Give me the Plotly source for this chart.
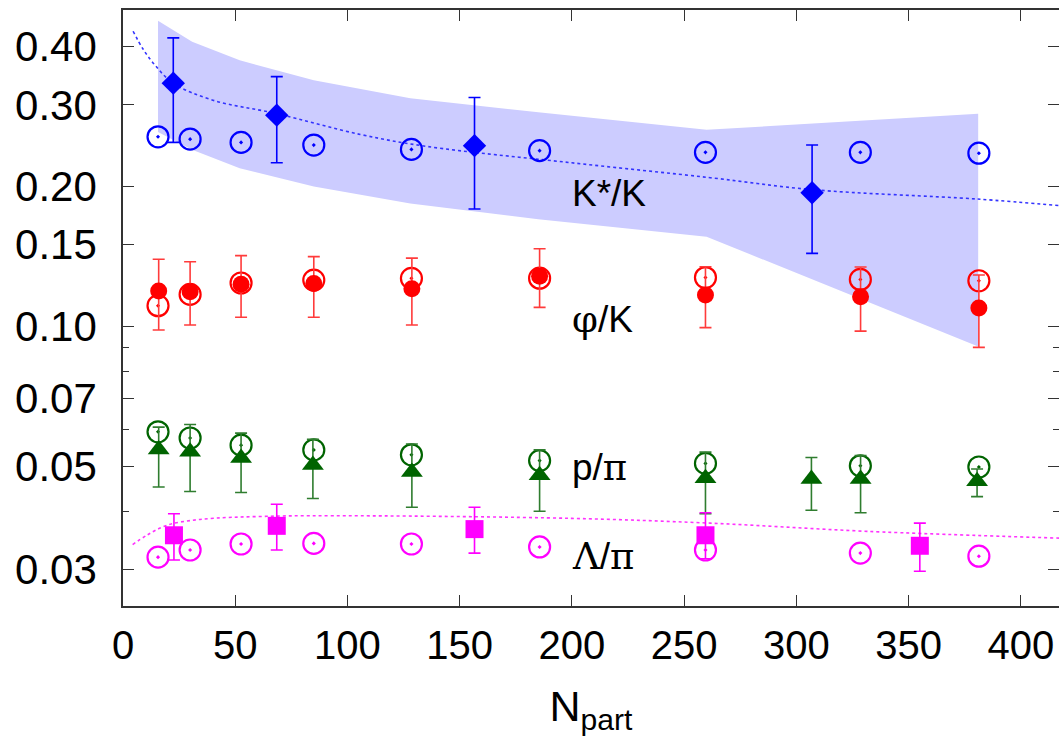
import numpy as np
import plotly.graph_objects as go

# ---------------- data ----------------
# K*/K model band
band_N = [15.6, 30.8, 52, 85, 128, 185, 260, 381]
band_hi = [0.455, 0.410, 0.374, 0.339, 0.310, 0.289, 0.265, 0.287]
band_lo = [0.262, 0.240, 0.219, 0.200, 0.184, 0.170, 0.156, 0.0905]

# K*/K dotted curve
kmod_N = [4.5, 9, 14.3, 22.3, 40, 68.7, 105.7, 135.5, 200, 261.7, 307, 380.7, 417]
kmod = [0.432, 0.395, 0.365, 0.334, 0.307, 0.287, 0.259, 0.244, 0.225, 0.209, 0.197, 0.188, 0.182]

# Lambda/pi dotted curve
lmod_N = [4.3, 10.6, 19.5, 34.3, 64, 105.7, 200, 261.7, 331.5, 417]
lmod = [0.0339, 0.0355, 0.0373, 0.0384, 0.0390, 0.0391, 0.0386, 0.0377, 0.0362, 0.0350]

# open circles (common N)
open_N = [15.6, 29.9, 52.6, 85, 128.5, 185.6, 259.5, 328.5, 381.3]
kstar_open = [0.256, 0.253, 0.249, 0.2457, 0.2405, 0.239, 0.237, 0.237, 0.236]
phi_open = [0.1108, 0.1172, 0.124, 0.1258, 0.1269, 0.127, 0.1274, 0.1262, 0.1254]
p_open = [0.0593, 0.0575, 0.0555, 0.0542, 0.0529, 0.0514, 0.0507, 0.0501, 0.0498]
lam_open = [0.03185, 0.033, 0.034, 0.0341, 0.034, 0.0335, 0.033, 0.0325, 0.032]

# K*/K measured (diamonds)
kstar_N = [22.4, 68.5, 156.6, 307]
kstar = [0.334, 0.285, 0.245, 0.194]
kstar_hi = [0.418, 0.345, 0.311, 0.2457]
kstar_lo = [0.249, 0.225, 0.179, 0.1436]

# phi/K measured (filled circles)
phi_N = [15.9, 29.9, 52.6, 85, 128.7, 185.6, 259.5, 328.6, 381.3]
phi = [0.1192, 0.1188, 0.1233, 0.1237, 0.1205, 0.1282, 0.1168, 0.1158, 0.1095]
phi_hi = [0.1395, 0.1378, 0.142, 0.1413, 0.1403, 0.147, 0.1344, 0.1342, 0.129]
phi_lo = [0.0982, 0.1007, 0.1046, 0.1046, 0.1007, 0.1099, 0.0994, 0.0977, 0.0901]

# p/pi measured (triangles)
p_N = [15.9, 29.9, 52.6, 84.6, 128.7, 185.6, 259.5, 306.7, 328.6, 380.5]
p = [0.0543, 0.0537, 0.0521, 0.0503, 0.0486, 0.0478, 0.0471, 0.0469, 0.0469, 0.0464]
p_hi = [0.0607, 0.0615, 0.0589, 0.0571, 0.0558, 0.0542, 0.0536, 0.0522, 0.0527, 0.0493]
p_lo = [0.0451, 0.0441, 0.0439, 0.0426, 0.0408, 0.0400, 0.0395, 0.0402, 0.0397, 0.0430]

# Lambda/pi measured (squares)
lam_N = [22.7, 68.5, 156.6, 259.5, 355]
lam = [0.0355, 0.0372, 0.0366, 0.0355, 0.0337]
lam_hi = [0.0395, 0.0414, 0.0408, 0.0397, 0.0377]
lam_lo = [0.0314, 0.0330, 0.0325, 0.0316, 0.0297]

x_ticks = [0, 50, 100, 150, 200, 250, 300, 350, 400]
y_ticks = [0.03, 0.05, 0.07, 0.10, 0.15, 0.20, 0.30, 0.40]
y_ticktext = ["0.03", "0.05", "0.07", "0.10", "0.15", "0.20", "0.30", "0.40"]
y_minor = [0.04, 0.06, 0.08, 0.09]

labels = ["K*/K", "φ/K", "p/π", "Λ/π"]
label_N = [199, 199, 199, 199]
label_y = [0.1936, 0.1034, 0.0497, 0.0319]

# ---------------- figure ----------------
FONT = "Liberation Sans, Arial, Helvetica, sans-serif"
SERIF = "DejaVu Serif, Liberation Serif, serif"

BLUE = "#0000FF"
RED = "#FF0000"
GREEN = "#006400"
MAG = "#FF00FF"


def err(v, hi, lo):
    v = np.array(v)
    return dict(type="data", symmetric=False,
                array=list(np.array(hi) - v), arrayminus=list(v - np.array(lo)))


fig = go.Figure()

# band
fig.add_trace(go.Scatter(
    x=band_N + band_N[::-1], y=band_hi + band_lo[::-1],
    mode="lines", fill="toself", fillcolor="#CCCCFF",
    line=dict(width=0, color="#CCCCFF"), hoverinfo="skip", showlegend=False))

# dotted model curves
fig.add_trace(go.Scatter(x=kmod_N, y=kmod, mode="lines",
                         line=dict(color="#3333FF", width=1.6, dash="dot", shape="spline"),
                         showlegend=False))
fig.add_trace(go.Scatter(x=lmod_N, y=lmod, mode="lines",
                         line=dict(color="#FF33FF", width=1.6, dash="dot", shape="spline"),
                         showlegend=False))


def open_circ(y, color):
    return go.Scatter(x=open_N, y=y, mode="markers", showlegend=False,
                      marker=dict(symbol="circle-open-dot", size=21, color=color,
                                  line=dict(width=2.2, color=color)))


fig.add_trace(open_circ(kstar_open, BLUE))
fig.add_trace(open_circ(phi_open, RED))
fig.add_trace(open_circ(p_open, GREEN))
fig.add_trace(open_circ(lam_open, MAG))

fig.add_trace(go.Scatter(
    x=kstar_N, y=kstar, mode="markers", showlegend=False,
    marker=dict(symbol="diamond", size=18, color=BLUE),
    error_y=dict(**err(kstar, kstar_hi, kstar_lo), color=BLUE, thickness=1.6, width=6)))

fig.add_trace(go.Scatter(
    x=phi_N, y=phi, mode="markers", showlegend=False,
    marker=dict(symbol="circle", size=17, color=RED),
    error_y=dict(**err(phi, phi_hi, phi_lo), color="#FF3B3B", thickness=1.6, width=6)))

fig.add_trace(go.Scatter(
    x=p_N, y=p, mode="markers", showlegend=False,
    marker=dict(symbol="triangle-up", size=19, color=GREEN),
    error_y=dict(**err(p, p_hi, p_lo), color="#2F7D2F", thickness=1.6, width=6)))

fig.add_trace(go.Scatter(
    x=lam_N, y=lam, mode="markers", showlegend=False,
    marker=dict(symbol="square", size=18, color=MAG),
    error_y=dict(**err(lam, lam_hi, lam_lo), color=MAG, thickness=1.6, width=6)))

# dummy for right-hand y axis (ticks only)
fig.add_trace(go.Scatter(x=[None], y=[None], yaxis="y2", showlegend=False, hoverinfo="skip"))

for t, xn, yv in zip(labels, label_N, label_y):
    txt = t
    for g in ["φ", "π", "Λ"]:
        txt = txt.replace(g, f"<span style='font-family:{SERIF}'>{g}</span>")
    fig.add_annotation(x=xn, y=np.log10(yv), text=txt, showarrow=False,
                       xanchor="left", yanchor="middle",
                       font=dict(family=FONT, size=37, color="black"))

ylog_range = [np.log10(0.025), np.log10(0.48)]

fig.update_layout(
    width=1059, height=740,
    margin=dict(l=123, r=0, t=10, b=134),
    paper_bgcolor="white", plot_bgcolor="white",
    font=dict(family=FONT, color="black"),
    showlegend=False,
    xaxis=dict(
        range=[0, 417], tickvals=x_ticks, ticktext=[str(v) for v in x_ticks],
        ticks="inside", ticklen=11, tickwidth=1.3, tickcolor="#333333",
        showline=True, linecolor="#333333", linewidth=1.5, mirror="ticks",
        showgrid=False, zeroline=False,
        tickfont=dict(family=FONT, size=40, color="black"),
        ticklabelstandoff=3,
        title=dict(text="N<sub>part</sub>", font=dict(family=FONT, size=43, color="black"),
                   standoff=25),
    ),
    yaxis=dict(
        type="log", range=ylog_range, tickvals=y_ticks, ticktext=y_ticktext,
        ticks="inside", ticklen=11, tickwidth=1.3, tickcolor="#333333",
        minor=dict(tickvals=y_minor, ticks="inside", ticklen=6, tickwidth=1.3,
                   tickcolor="#333333", showgrid=False),
        showline=True, linecolor="#333333", linewidth=1.5, mirror=False,
        showgrid=False, zeroline=False,
        tickfont=dict(family=FONT, size=42, color="black"),
        ticklabelstandoff=16,
    ),
    yaxis2=dict(
        type="log", range=ylog_range, overlaying="y", side="right", anchor="x",
        tickvals=y_ticks, showticklabels=False,
        ticks="inside", ticklen=11, tickwidth=1.3, tickcolor="#333333",
        minor=dict(tickvals=y_minor, ticks="inside", ticklen=6, tickwidth=1.3,
                   tickcolor="#333333", showgrid=False),
        showline=False, showgrid=False, zeroline=False,
    ),
)

fig.write_html("out.html")
